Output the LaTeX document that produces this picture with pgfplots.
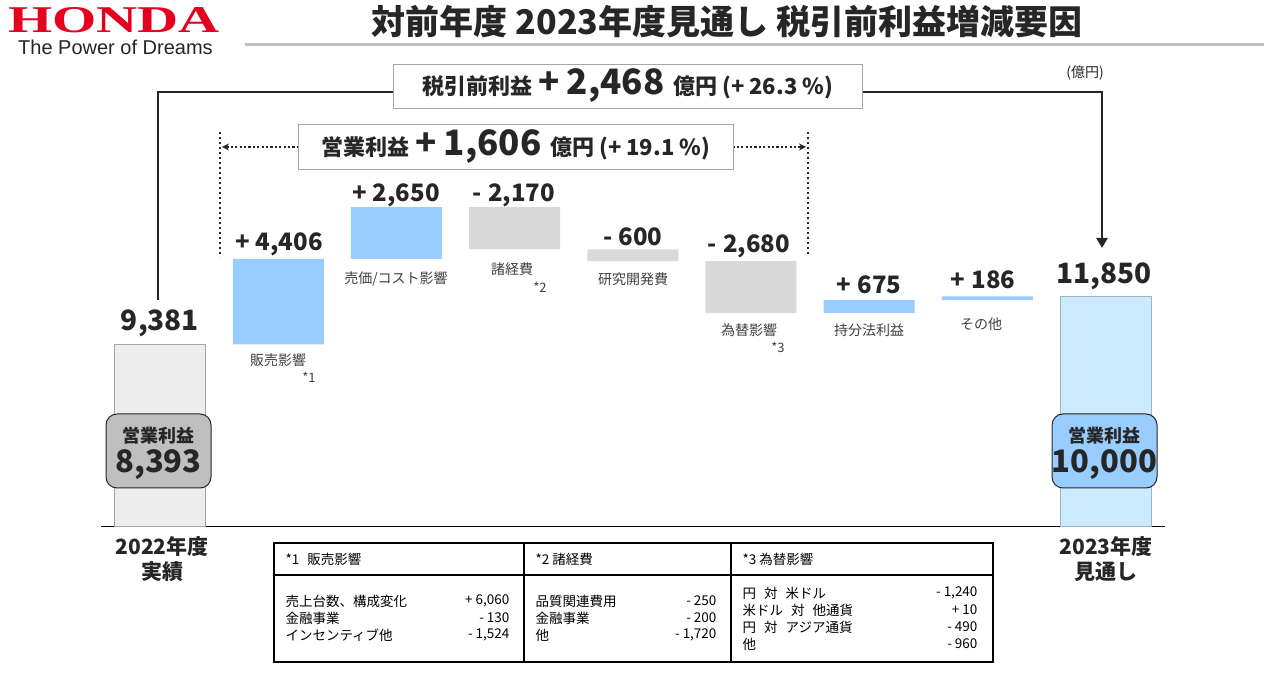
\documentclass[border=0pt]{standalone}
\usepackage{pgfplots}
\pgfplotsset{compat=1.18}
\usepackage{fontspec}
\setmainfont{Noto Sans CJK JP}
\newfontfamily\logofont{Liberation Serif}
\newfontfamily\tagfont{Liberation Sans}
\usetikzlibrary{arrows.meta}
\definecolor{posblue}{HTML}{99CCFF}
\definecolor{neggray}{HTML}{D9D9D9}
\definecolor{startfill}{HTML}{EDEDED}
\definecolor{startedge}{HTML}{A6A6A6}
\definecolor{endfill}{HTML}{CCEBFF}
\definecolor{endedge}{HTML}{9FB2C4}
\definecolor{txt}{HTML}{262626}
\definecolor{lbl}{HTML}{404040}
\definecolor{hondared}{HTML}{E60020}
\definecolor{boxgray}{HTML}{BFBFBF}
\definecolor{frame}{HTML}{A6A6A6}
\newcommand{\fs}[1]{\fontsize{#1}{#1}\selectfont}

\begin{document}
\begin{tikzpicture}
\useasboundingbox[fill=white] (0,0) rectangle (1264pt,674pt);

\pgfplotsset{wf/.style={at={(101pt,147pt)}, anchor=south west, scale only axis,
  width=1063.7pt, height=350.2pt, xmin=-0.5, xmax=8.5, ymin=0, ymax=18000,
  clip=false, bar width=91pt, xtick=\empty, ytick=\empty}}

\begin{axis}[wf, ybar, axis x line*=bottom, axis y line=none,
  x axis line style={black, line width=1pt}]
\addplot[bar shift=0pt, fill=startfill, draw=startedge, line width=1pt] coordinates {(0,9381)};
\addplot[bar shift=0pt, fill=endfill, draw=endedge, line width=1pt] coordinates {(8,11850)};
\end{axis}

\begin{axis}[wf, ybar stacked, axis lines=none]
\addplot[fill=none, draw=none] coordinates {(1,9381) (2,13787) (3,14267) (4,13667) (5,10987) (6,10987) (7,11662)};
\addplot[fill=posblue, draw=none] coordinates {(1,4406) (2,2650) (3,0) (4,0) (5,0) (6,675) (7,186)};
\addplot[fill=neggray, draw=none] coordinates {(1,0) (2,0) (3,2170) (4,600) (5,2680) (6,0) (7,0)};
\end{axis}

\begin{scope}[x=1pt, y=-1pt, yshift=674pt]
% logo
\node[anchor=base west, inner sep=0, text depth=0pt, text=hondared] at (8,33) {\scalebox{1.58}[1.05]{\fs{36}\logofont\bfseries HONDA}};
\node[anchor=base west, inner sep=0, text height=14pt, text=txt] at (18,55) {\fs{20}\tagfont The Power of Dreams};
% title
\node[text=txt] at (727,22) {\fs{34}\bfseries 対前年度 2023年度見通し 税引前利益増減要因};
\draw[boxgray, line width=3pt] (245,45) -- (1264,45);
\node[text=txt] at (1085,73) {\fs{14}(億円)};

% pre-tax bracket
\draw[txt, line width=2.8pt, -{Triangle[length=10pt, width=11pt]}] (158,300) -- (158,92) -- (1102,92) -- (1102,248);
\node[draw=frame, fill=white, line width=0.8pt, minimum width=469pt, minimum height=44pt, inner sep=0, text=txt] at (627.5,86)
  {\bfseries\fs{22}税引前利益\hspace{0.3em}\fs{35}+\hspace{0.2em}2,468\hspace{0.25em}\fs{22}億円 (+ 26.3 \%)};

% operating bracket
\draw[txt, line width=2.5pt, dash pattern=on 2.5pt off 2.5pt] (220,132) -- (220,257);
\draw[txt, line width=2.5pt, dash pattern=on 2.5pt off 2.5pt] (808,132) -- (808,254);
\draw[txt, line width=2.2pt, dash pattern=on 2.2pt off 2.2pt, {Stealth[length=7pt, width=7pt]}-{Stealth[length=7pt, width=7pt]}] (222,147) -- (806,147);
\node[draw=frame, fill=white, line width=0.8pt, minimum width=435pt, minimum height=45pt, inner sep=0, text=txt] at (515.5,146.5)
  {\bfseries\fs{22}営業利益\hspace{0.3em}\fs{35}+\hspace{0.2em}1,606\hspace{0.25em}\fs{22}億円 (+ 19.1 \%)};

% value labels
\node[text=txt] at (160,323) {\fs{28}\bfseries 9,381};
\node[text=txt] at (279,244) {\fs{24}\bfseries +\hspace{0.25em}4,406};
\node[text=txt] at (396,195) {\fs{24}\bfseries +\hspace{0.25em}2,650};
\node[text=txt] at (514,195) {\fs{24}\bfseries -\hspace{0.25em}2,170};
\node[text=txt] at (633,237) {\fs{24}\bfseries -\hspace{0.25em}600};
\node[text=txt] at (749,246) {\fs{24}\bfseries -\hspace{0.25em}2,680};
\node[text=txt] at (869,285) {\fs{24}\bfseries +\hspace{0.25em}675};
\node[text=txt] at (983,280) {\fs{24}\bfseries +\hspace{0.25em}186};
\node[text=txt] at (1104,276) {\fs{28}\bfseries 11,850};

% category labels
\node[text=lbl] at (278,360) {\fs{14}販売影響};
\node[text=lbl] at (309,377) {\fs{13}*1};
\node[text=lbl] at (396,279) {\fs{14}売価/コスト影響};
\node[text=lbl] at (512,269) {\fs{14}諸経費};
\node[text=lbl] at (540,287) {\fs{13}*2};
\node[text=lbl] at (633,279) {\fs{14}研究開発費};
\node[text=lbl] at (749,330) {\fs{14}為替影響};
\node[text=lbl] at (778,347) {\fs{13}*3};
\node[text=lbl] at (869,330) {\fs{14}持分法利益};
\node[text=lbl] at (981,324) {\fs{14}その他};

% operating income boxes
\node[draw=txt, fill=boxgray, rounded corners=11pt, line width=1pt, minimum width=105pt, minimum height=74pt] at (158.5,451) {};
\node[text=txt] at (158.5,436) {\fs{18}\bfseries 営業利益};
\node[text=txt] at (158.5,465) {\fs{31}\bfseries 8,393};
\node[draw=txt, fill=posblue, rounded corners=11pt, line width=1pt, minimum width=105pt, minimum height=74pt] at (1104.5,451) {};
\node[text=txt] at (1104.5,436) {\fs{18}\bfseries 営業利益};
\node[text=txt] at (1104.5,465) {\fs{31}\bfseries 10,000};

% period labels
\node[text=txt] at (162,547) {\fs{21}\bfseries 2022年度};
\node[text=txt] at (162,572) {\fs{21}\bfseries 実績};
\node[text=txt] at (1106,547) {\fs{21}\bfseries 2023年度};
\node[text=txt] at (1106,572) {\fs{21}\bfseries 見通し};

% table
\draw[black, line width=1.3pt] (274,543) rectangle (993,662);
\draw[black, line width=1.1pt] (274,575) -- (993,575);
\draw[black, line width=1.1pt] (524,543) -- (524,662);
\draw[black, line width=1.1pt] (731,543) -- (731,662);
\node[anchor=west, text=black] at (282,559) {\fs{13.5}*1\hspace{0.6em}販売影響};
\node[anchor=west, text=black] at (532,559) {\fs{13.5}*2 諸経費};
\node[anchor=west, text=black] at (739,559) {\fs{13.5}*3 為替影響};
\foreach \y/\a/\b in {601/売上台数、構成変化/+ 6{,}060, 618/金融事業/- 130, 635/インセンティブ他/- 1{,}524}{
  \node[anchor=west, text=black] at (282,\y) {\fs{13.5}\a};
  \node[anchor=east, text=black] at (513,\y) {\fs{13.5}\b};}
\foreach \y/\a/\b in {601/品質関連費用/- 250, 618/金融事業/- 200, 635/他/- 1{,}720}{
  \node[anchor=west, text=black] at (532,\y) {\fs{13.5}\a};
  \node[anchor=east, text=black] at (720,\y) {\fs{13.5}\b};}
\node[anchor=west, text=black] at (739,593) {\fs{13.5}円\hspace{0.6em}対\hspace{0.6em}米ドル};
\node[anchor=west, text=black] at (739,610) {\fs{13.5}米ドル\hspace{0.6em}対\hspace{0.6em}他通貨};
\node[anchor=west, text=black] at (739,627) {\fs{13.5}円\hspace{0.6em}対\hspace{0.6em}アジア通貨};
\node[anchor=west, text=black] at (739,644) {\fs{13.5}他};
\node[anchor=east, text=black] at (981,593) {\fs{13.5}- 1,240};
\node[anchor=east, text=black] at (981,610) {\fs{13.5}+ 10};
\node[anchor=east, text=black] at (981,627) {\fs{13.5}- 490};
\node[anchor=east, text=black] at (981,644) {\fs{13.5}- 960};
\end{scope}
\end{tikzpicture}
\end{document}
